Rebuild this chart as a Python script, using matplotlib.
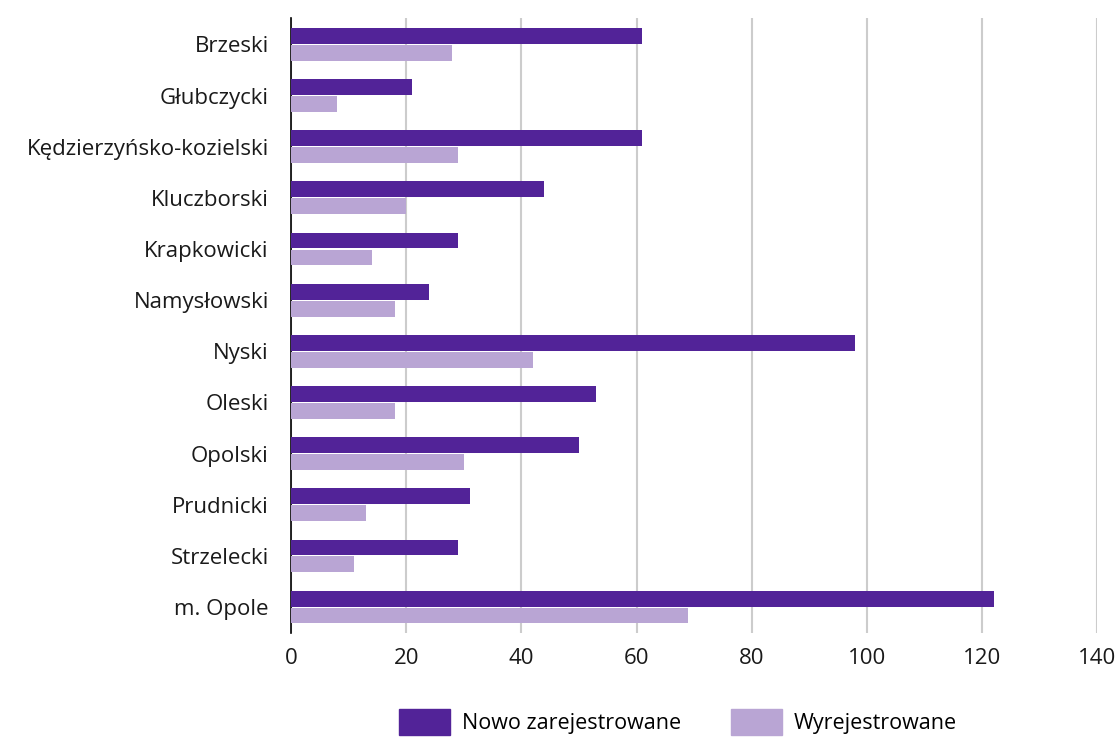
import numpy as np
from matplotlib import pyplot as plt
from matplotlib.patches import Patch

powiaty = ["Brzeski", "Głubczycki", "Kędzierzyńsko-kozielski", "Kluczborski",
           "Krapkowicki", "Namysłowski", "Nyski", "Oleski", "Opolski",
           "Prudnicki", "Strzelecki", "m. Opole"]
nowo = [61, 21, 61, 44, 29, 24, 98, 53, 50, 31, 29, 122]
wyrej = [28, 8, 29, 20, 14, 18, 42, 18, 30, 13, 11, 69]

dark = "#522398"
light = "#b9a5d4"

plt.rcParams['font.family'] = ['Open Sans', 'DejaVu Sans']

fig = plt.figure(figsize=(11.15, 7.4), dpi=100)
ax = fig.add_axes([0.261, 0.145, 0.723, 0.831])

y = np.arange(len(powiaty))
h = 0.31
ax.barh(y - 0.165, nowo, height=h, color=dark, zorder=3)
ax.barh(y + 0.165, wyrej, height=h, color=light, zorder=3)

ax.set_ylim(11.5, -0.52)
ax.set_xlim(0, 140)
ax.set_xticks(range(0, 141, 20))
ax.set_yticks(y)
ax.set_yticklabels(powiaty)
ax.grid(axis='x', color='#cccccc', linewidth=1.5, zorder=0)
for s in ['top', 'right', 'bottom']:
    ax.spines[s].set_visible(False)
ax.spines['left'].set_color('black')
ax.spines['left'].set_linewidth(1.2)
ax.tick_params(axis='both', length=0, labelsize=16, colors='#1a1a1a')
ax.tick_params(axis='x', pad=11)
ax.tick_params(axis='y', pad=16)

handles = [Patch(color=dark, label="Nowo zarejestrowane"),
           Patch(color=light, label="Wyrejestrowane")]
fig.legend(handles=handles, loc='lower center', bbox_to_anchor=(0.608, -0.02),
           ncol=2, frameon=False, fontsize=15.5, handlelength=2.4, handleheight=1.5,
           handletextpad=0.55, columnspacing=2.3)

plt.savefig("out.png")
